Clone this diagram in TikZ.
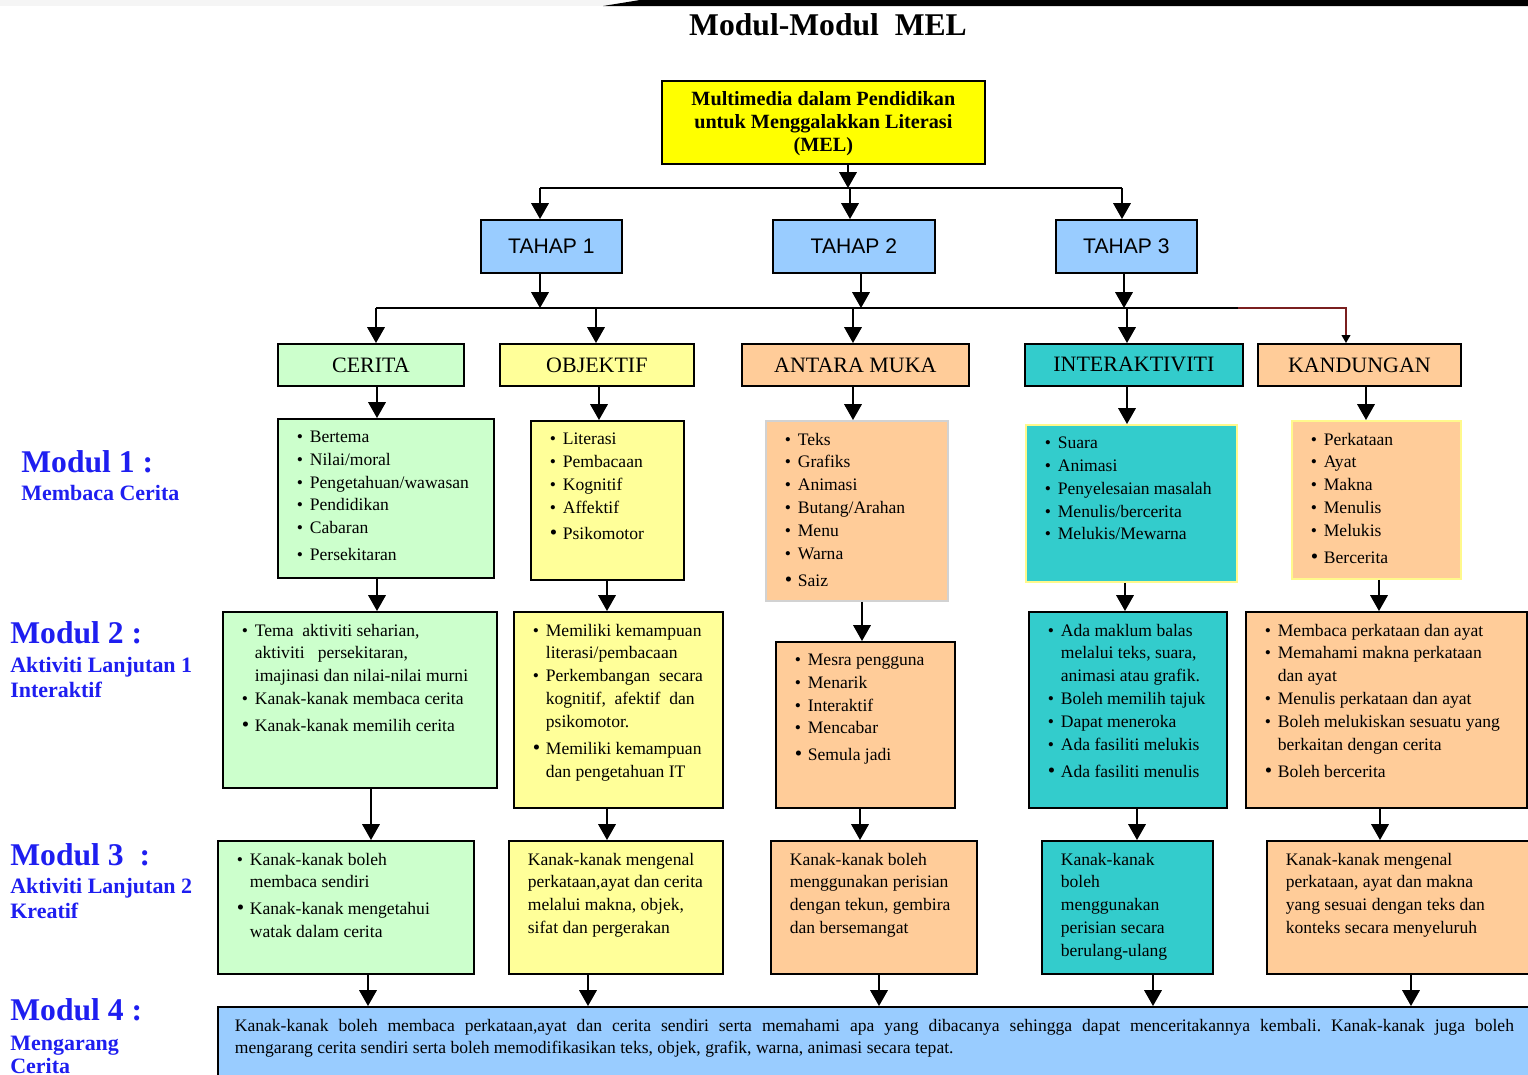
\documentclass[tikz,border=0pt]{standalone}
\usepackage{fontspec}
\setmainfont{Liberation Serif}
\newfontfamily\tahapfont{Liberation Sans}
\usetikzlibrary{arrows.meta}
\frenchspacing

\newlength{\px}
\setlength{\px}{0.02cm}

\definecolor{melyellow}{HTML}{FFFF00}
\definecolor{tahapblue}{HTML}{99CCFF}
\definecolor{ceritagreen}{HTML}{CCFFCC}
\definecolor{objyellow}{HTML}{FFFF99}
\definecolor{mukapeach}{HTML}{FFCC99}
\definecolor{interteal}{HTML}{33CCCC}
\definecolor{modulblue}{HTML}{1E1EF0}
\definecolor{kandred}{HTML}{7A1F1F}

% bullet items inside the boxes
\newcommand{\itm}{\par\noindent\hangindent=13\px\hangafter=1\relax\makebox[13\px][l]{\textbullet}}
\newcommand{\itg}{\par\vspace{4\px}\itm}
\newcommand{\itl}{\par\vspace{4\px}\noindent\hangindent=13\px\hangafter=1\relax\makebox[13\px][l]{\large\textbullet}}
% box body: width, height (in px), text
\newcommand{\inbox}[3]{\begin{minipage}[t][\dimexpr#2\px-24\px\relax][t]{\dimexpr#1\px-38\px\relax}\raggedright #3\end{minipage}}

\begin{document}
\begin{tikzpicture}[x=0.02cm, y=-0.02cm,
    box/.style={draw, line width=1pt, anchor=north west, inner xsep=19\px, inner ysep=12\px, font=\fontsize{10}{13}\selectfont},
    headbox/.style={draw, line width=1pt, anchor=north west, inner sep=0pt, minimum height=42\px, font=\fontsize{12.5}{14}\selectfont},
    tahapbox/.style={draw, line width=1pt, anchor=north west, inner sep=0pt, minimum height=53\px, fill=tahapblue, font=\tahapfont\fontsize{12}{14}\selectfont},
    modlabel/.style={anchor=base west, inner sep=0pt, text=modulblue, font=\bfseries\fontsize{18}{20}\selectfont},
    modsub/.style={anchor=base west, inner sep=0pt, text=modulblue, font=\bfseries\fontsize{12.5}{14}\selectfont},
    arr/.style={line width=0.8pt, -{Triangle[length=9pt,width=10pt]}},
    bus/.style={line width=0.8pt},
    redarr/.style={line width=0.7pt, draw=kandred, -{Triangle[length=4.5pt,width=5pt,color=black]}}]
        \useasboundingbox (0,0) rectangle (1528,1075);
        
        % Top band and title
        \fill[gray!8] (0,0) rectangle (610,6);
        \fill[black] (603,6) -- (640,0) -- (1528,0) -- (1528,6) -- cycle;
        \node[font=\bfseries\fontsize{18}{20}\selectfont] (title) at (828,25) {Modul-Modul\ \ MEL};
        
        % Main box
        \node[draw, line width=1pt, anchor=north west, fill=melyellow, minimum width=323\px, minimum height=83\px, align=center, font=\bfseries\fontsize{11.5}{13}\selectfont] (mel) at (661,80) {\rule{0pt}{16\px}Multimedia dalam Pendidikan\\untuk Menggalakkan Literasi\\(MEL)};
        
        % Stages
        \node[tahapbox, minimum width=141\px] (t1) at (480,219) {TAHAP 1};
        \node[tahapbox, minimum width=162\px] (t2) at (772,219) {TAHAP 2};
        \node[tahapbox, minimum width=141\px] (t3) at (1055,219) {TAHAP 3};
        
        % Categories
        \node[headbox, fill=ceritagreen, minimum width=186\px] (cer) at (277,343) {CERITA};
        \node[headbox, fill=objyellow, minimum width=194\px] (obj) at (499,343) {OBJEKTIF};
        \node[headbox, fill=mukapeach, minimum width=227\px] (muka) at (741,343) {ANTARA MUKA};
        \node[headbox, fill=interteal, minimum width=218\px] (inter) at (1024,343) {INTERAKTIVITI};
        \node[headbox, fill=mukapeach, minimum width=203\px] (kand) at (1257,343) {KANDUNGAN};
        
        % Modul 1
        \node[box, fill=ceritagreen] (c1) at (277,418) {\inbox{216}{159}{\itm Bertema \itm Nilai/moral \itm Pengetahuan/wawasan \itm Pendidikan \itm Cabaran \itg Persekitaran}};
        \node[box, fill=objyellow] (o1) at (530,420) {\inbox{153}{159}{\itm Literasi \itm Pembacaan \itm Kognitif \itm Affektif \itl Psikomotor}};
        \node[box, fill=mukapeach, draw=gray!35] (a1) at (765,420) {\inbox{182}{180}{\itm Teks \itm Grafiks \itm Animasi \itm Butang/Arahan \itm Menu \itm Warna \itl Saiz}};
        \node[box, fill=interteal, draw=yellow!45] (i1) at (1025,424) {\inbox{211}{157}{\itm Suara \itm Animasi \itm Penyelesaian masalah \itm Menulis/bercerita \itm Melukis/Mewarna}};
        \node[box, fill=mukapeach, draw=yellow!45] (k1) at (1291,420) {\inbox{169}{158}{\itm Perkataan \itm Ayat \itm Makna \itm Menulis \itm Melukis \itl Bercerita}};
        
        % Modul 2
        \node[box, fill=ceritagreen] (c2) at (222,611) {\inbox{274}{176}{\itm Tema\ \ aktiviti seharian,\newline aktiviti\ \ \ persekitaran,\newline imajinasi dan nilai-nilai murni \itm Kanak-kanak membaca cerita \itl Kanak-kanak memilih cerita}};
        \node[box, fill=objyellow] (o2) at (513,611) {\inbox{209}{196}{\itm Memiliki kemampuan\newline literasi/pembacaan \itm Perkembangan\ \ secara\newline kognitif,\ \ afektif\ \ dan\newline psikomotor. \itl Memiliki kemampuan\newline dan pengetahuan IT}};
        \node[box, fill=mukapeach] (a2) at (775,641) {\inbox{179}{166}{\itm Mesra pengguna \itm Menarik \itm Interaktif \itm Mencabar \itl Semula jadi}};
        \node[box, fill=interteal] (i2) at (1028,611) {\inbox{198}{196}{\itm Ada maklum balas\newline melalui teks, suara,\newline animasi atau grafik. \itm Boleh memilih tajuk \itm Dapat meneroka \itm Ada fasiliti melukis \itl Ada fasiliti menulis}};
        \node[box, fill=mukapeach] (k2) at (1245,611) {\inbox{281}{196}{\itm Membaca perkataan dan ayat \itm Memahami makna perkataan\newline dan ayat \itm Menulis perkataan dan ayat \itm Boleh melukiskan sesuatu yang\newline berkaitan dengan cerita \itl Boleh bercerita}};
        
        % Modul 3
        \node[box, fill=ceritagreen] (c3) at (217,840) {\inbox{256}{133}{\itm Kanak-kanak boleh\newline membaca sendiri \itl Kanak-kanak mengetahui\newline watak dalam cerita}};
        \node[box, fill=objyellow] (o3) at (508,840) {\inbox{214}{133}{Kanak-kanak mengenal\\perkataan,ayat dan cerita\\melalui makna, objek,\\sifat dan pergerakan}};
        \node[box, fill=mukapeach] (a3) at (770,840) {\inbox{206}{133}{Kanak-kanak boleh\\menggunakan perisian\\dengan tekun, gembira\\dan bersemangat}};
        \node[box, fill=interteal] (i3) at (1041,840) {\inbox{171}{133}{Kanak-kanak\\boleh\\menggunakan\\perisian secara\\berulang-ulang}};
        \node[box, fill=mukapeach] (k3) at (1266,840) {\inbox{264}{133}{Kanak-kanak mengenal\\perkataan, ayat dan makna\\yang sesuai dengan teks dan\\konteks secara menyeluruh}};
        
        % Modul 4
        \node[box, fill=tahapblue, inner xsep=17\px] (m4) at (217,1006) {\begin{minipage}[t][64\px][t]{1279\px}Kanak-kanak boleh membaca perkataan,ayat dan cerita sendiri serta memahami apa yang dibacanya sehingga dapat menceritakannya kembali. Kanak-kanak juga boleh\linebreak mengarang cerita sendiri serta boleh memodifikasikan teks, objek, grafik, warna, animasi secara tepat.\end{minipage}};
        
        % Module labels
        \node[modlabel] (mod1) at (21,472) {Modul 1 :};
        \node[modsub] (mod1s) at (21,500) {Membaca Cerita};
        \node[modlabel] (mod2) at (10,643) {Modul 2 :};
        \node[modsub] (mod2s) at (10,672) {Aktiviti Lanjutan 1};
        \node[modsub] (mod2t) at (10,697) {Interaktif};
        \node[modlabel] (mod3) at (10,865) {Modul 3\ \ :};
        \node[modsub] (mod3s) at (10,893) {Aktiviti Lanjutan 2};
        \node[modsub] (mod3t) at (10,918) {Kreatif};
        \node[modlabel] (mod4) at (10,1020) {Modul 4 :};
        \node[modsub] (mod4s) at (10,1050) {Mengarang};
        \node[modsub] (mod4t) at (10,1073) {Cerita};
        
        % MEL to stages
        \coordinate (busA) at (848,188);
        \draw[arr] (mel.south -| 848,0) -- (busA);
        \draw[bus] (busA -| 540,0) -- (busA -| 1122,0);
        \draw[arr] (busA -| 540,0) -- (t1.north -| 540,0);
        \draw[arr] (busA -| 850,0) -- (t2.north -| 850,0);
        \draw[arr] (busA -| 1122,0) -- (t3.north -| 1122,0);
        
        % Stages to categories
        \coordinate (busB) at (861,308);
        \draw[arr] (t1.south -| 540,0) -- (busB -| 540,0);
        \draw[arr] (t2.south -| 861,0) -- (busB);
        \draw[arr] (t3.south -| 1124,0) -- (busB -| 1124,0);
        \draw[bus] (busB -| 376,0) -- (busB -| 1238,0);
        \draw[redarr] (busB -| 1238,0) -- (busB -| 1346,0) -- (kand.north -| 1346,0);
        \draw[arr] (busB -| 376,0) -- (cer.north -| 376,0);
        \draw[arr] (busB -| 596,0) -- (obj.north -| 596,0);
        \draw[arr] (busB -| 853,0) -- (muka.north -| 853,0);
        \draw[arr] (busB -| 1127,0) -- (inter.north -| 1127,0);
        
        % Categories to Modul 1
        \draw[arr] (cer.south -| 377,0) -- (c1.north -| 377,0);
        \draw[arr] (obj.south -| 599,0) -- (o1.north -| 599,0);
        \draw[arr] (muka.south -| 853,0) -- (a1.north -| 853,0);
        \draw[arr] (inter.south -| 1127,0) -- (i1.north -| 1127,0);
        \draw[arr] (kand.south -| 1366,0) -- (k1.north -| 1366,0);
        
        % Modul 1 to Modul 2
        \draw[arr] (c1.south -| 377,0) -- (c2.north -| 377,0);
        \draw[arr] (o1.south -| 607,0) -- (o2.north -| 607,0);
        \draw[arr] (a1.south -| 862,0) -- (a2.north -| 862,0);
        \draw[arr] (i1.south -| 1125,0) -- (i2.north -| 1125,0);
        \draw[arr] (k1.south -| 1379,0) -- (k2.north -| 1379,0);
        
        % Modul 2 to Modul 3
        \draw[arr] (c2.south -| 371,0) -- (c3.north -| 371,0);
        \draw[arr] (o2.south -| 607,0) -- (o3.north -| 607,0);
        \draw[arr] (a2.south -| 860,0) -- (a3.north -| 860,0);
        \draw[arr] (i2.south -| 1137,0) -- (i3.north -| 1137,0);
        \draw[arr] (k2.south -| 1380,0) -- (k3.north -| 1380,0);
        
        % Modul 3 to Modul 4
        \draw[arr] (c3.south -| 368,0) -- (m4.north -| 368,0);
        \draw[arr] (o3.south -| 588,0) -- (m4.north -| 588,0);
        \draw[arr] (a3.south -| 879,0) -- (m4.north -| 879,0);
        \draw[arr] (i3.south -| 1153,0) -- (m4.north -| 1153,0);
        \draw[arr] (k3.south -| 1411,0) -- (m4.north -| 1411,0);
    \end{tikzpicture}
\end{document}
